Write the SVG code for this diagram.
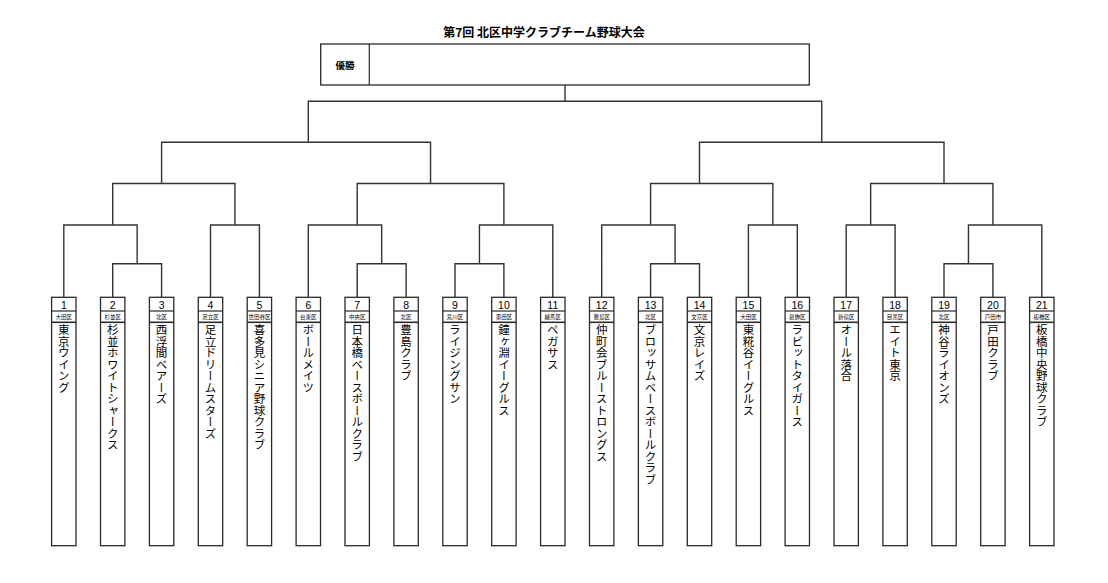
<svg xmlns="http://www.w3.org/2000/svg" width="1108" height="583" viewBox="0 0 1108 583">
<style>
.bg{fill:#ffffff}
.box{fill:#ffffff;stroke:#2a2a2a;stroke-width:1.3}
.sep{stroke:#2a2a2a;stroke-width:1.2}
.sep2{stroke:#2a2a2a;stroke-width:1.6}
.conn{fill:none;stroke:#333333;stroke-width:1.4}
.title{font-family:"Noto Sans CJK JP","Liberation Sans",sans-serif;font-size:12px;font-weight:bold;fill:#000}
.win{font-family:"Noto Sans CJK JP",sans-serif;font-size:9.5px;font-weight:bold;fill:#000}
.num{font-family:"Liberation Sans",Arial,sans-serif;font-size:10.5px;fill:#000;text-anchor:middle}
.dist{font-family:"Noto Sans CJK JP",sans-serif;font-size:5.5px;fill:#000;text-anchor:middle}
.name{font-family:"Noto Sans CJK JP",sans-serif;font-size:11.5px;fill:#000;writing-mode:vertical-rl;text-anchor:start}
</style>
<rect class="bg" x="0" y="0" width="1108" height="583"/>
<text class="title" x="544" y="37" text-anchor="middle">第7回 北区中学クラブチーム野球大会</text>
<g id="winner">
<rect class="box" x="320.7" y="44" width="488.6" height="41"/>
<line class="sep" x1="369.3" y1="44" x2="369.3" y2="85"/>
<text class="win" x="345" y="68.5" text-anchor="middle">優勝</text>
</g>
<g id="connectors">
<path class="conn" d="M565,85 V101.3"/>
<path class="conn" d="M308.3,142.3 V101.3 H821.75 V142.3"/>
<path class="conn" d="M161.6,183.5 V142.3 H430.55 V183.5"/>
<path class="conn" d="M699.5,183.5 V142.3 H944 V183.5"/>
<path class="conn" d="M112.7,225 V183.5 H234.95 V225"/>
<path class="conn" d="M357.2,225 V183.5 H503.9 V225"/>
<path class="conn" d="M650.6,225 V183.5 H772.85 V225"/>
<path class="conn" d="M870.65,225 V183.5 H992.9 V225"/>
<path class="conn" d="M63.8,297.3 V225 H137.15 V263.7"/>
<path class="conn" d="M210.5,297.3 V225 H259.4 V297.3"/>
<path class="conn" d="M308.3,297.3 V225 H381.65 V263.7"/>
<path class="conn" d="M479.45,263.7 V225 H552.8 V297.3"/>
<path class="conn" d="M601.7,297.3 V225 H675.05 V263.7"/>
<path class="conn" d="M748.4,297.3 V225 H797.3 V297.3"/>
<path class="conn" d="M846.2,297.3 V225 H895.1 V297.3"/>
<path class="conn" d="M968.45,263.7 V225 H1041.8 V297.3"/>
<path class="conn" d="M112.7,297.3 V263.7 H161.6 V297.3"/>
<path class="conn" d="M357.2,297.3 V263.7 H406.1 V297.3"/>
<path class="conn" d="M455,297.3 V263.7 H503.9 V297.3"/>
<path class="conn" d="M650.6,297.3 V263.7 H699.5 V297.3"/>
<path class="conn" d="M944,297.3 V263.7 H992.9 V297.3"/>
</g>
<defs>
<g id="frame">
<rect class="box" x="-12.2" y="297.3" width="24.4" height="248.4"/>
<line class="sep" x1="-12.2" y1="311" x2="12.2" y2="311"/>
<line class="sep2" x1="-12.2" y1="322.3" x2="12.2" y2="322.3"/>
</g>
</defs>
<g id="team1" transform="translate(63.8,0)"><use href="#frame"/><text class="num" x="0" y="308.5">1</text><text class="dist" x="0" y="319.3">大田区</text><text class="name" x="0" y="324">東京ウイング</text></g>
<g id="team2" transform="translate(112.7,0)"><use href="#frame"/><text class="num" x="0" y="308.5">2</text><text class="dist" x="0" y="319.3">杉並区</text><text class="name" x="0" y="324">杉並ホワイトシャークス</text></g>
<g id="team3" transform="translate(161.6,0)"><use href="#frame"/><text class="num" x="0" y="308.5">3</text><text class="dist" x="0" y="319.3">北区</text><text class="name" x="0" y="324">西浮間ベアーズ</text></g>
<g id="team4" transform="translate(210.5,0)"><use href="#frame"/><text class="num" x="0" y="308.5">4</text><text class="dist" x="0" y="319.3">足立区</text><text class="name" x="0" y="324">足立ドリームスターズ</text></g>
<g id="team5" transform="translate(259.4,0)"><use href="#frame"/><text class="num" x="0" y="308.5">5</text><text class="dist" x="0" y="319.3">世田谷区</text><text class="name" x="0" y="324">喜多見シニア野球クラブ</text></g>
<g id="team6" transform="translate(308.3,0)"><use href="#frame"/><text class="num" x="0" y="308.5">6</text><text class="dist" x="0" y="319.3">台東区</text><text class="name" x="0" y="324">ボールメイツ</text></g>
<g id="team7" transform="translate(357.2,0)"><use href="#frame"/><text class="num" x="0" y="308.5">7</text><text class="dist" x="0" y="319.3">中央区</text><text class="name" x="0" y="324">日本橋ベースボールクラブ</text></g>
<g id="team8" transform="translate(406.1,0)"><use href="#frame"/><text class="num" x="0" y="308.5">8</text><text class="dist" x="0" y="319.3">北区</text><text class="name" x="0" y="324">豊島クラブ</text></g>
<g id="team9" transform="translate(455,0)"><use href="#frame"/><text class="num" x="0" y="308.5">9</text><text class="dist" x="0" y="319.3">荒川区</text><text class="name" x="0" y="324">ライジングサン</text></g>
<g id="team10" transform="translate(503.9,0)"><use href="#frame"/><text class="num" x="0" y="308.5">10</text><text class="dist" x="0" y="319.3">墨田区</text><text class="name" x="0" y="324">鐘ヶ淵イーグルス</text></g>
<g id="team11" transform="translate(552.8,0)"><use href="#frame"/><text class="num" x="0" y="308.5">11</text><text class="dist" x="0" y="319.3">練馬区</text><text class="name" x="0" y="324">ペガサス</text></g>
<g id="team12" transform="translate(601.7,0)"><use href="#frame"/><text class="num" x="0" y="308.5">12</text><text class="dist" x="0" y="319.3">豊島区</text><text class="name" x="0" y="324">仲町会ブルーストロングス</text></g>
<g id="team13" transform="translate(650.6,0)"><use href="#frame"/><text class="num" x="0" y="308.5">13</text><text class="dist" x="0" y="319.3">北区</text><text class="name" x="0" y="324">ブロッサムベースボールクラブ</text></g>
<g id="team14" transform="translate(699.5,0)"><use href="#frame"/><text class="num" x="0" y="308.5">14</text><text class="dist" x="0" y="319.3">文京区</text><text class="name" x="0" y="324">文京レイズ</text></g>
<g id="team15" transform="translate(748.4,0)"><use href="#frame"/><text class="num" x="0" y="308.5">15</text><text class="dist" x="0" y="319.3">大田区</text><text class="name" x="0" y="324">東糀谷イーグルス</text></g>
<g id="team16" transform="translate(797.3,0)"><use href="#frame"/><text class="num" x="0" y="308.5">16</text><text class="dist" x="0" y="319.3">葛飾区</text><text class="name" x="0" y="324">ラビットタイガース</text></g>
<g id="team17" transform="translate(846.2,0)"><use href="#frame"/><text class="num" x="0" y="308.5">17</text><text class="dist" x="0" y="319.3">新宿区</text><text class="name" x="0" y="324">オール落合</text></g>
<g id="team18" transform="translate(895.1,0)"><use href="#frame"/><text class="num" x="0" y="308.5">18</text><text class="dist" x="0" y="319.3">目黒区</text><text class="name" x="0" y="324">エイト東京</text></g>
<g id="team19" transform="translate(944,0)"><use href="#frame"/><text class="num" x="0" y="308.5">19</text><text class="dist" x="0" y="319.3">北区</text><text class="name" x="0" y="324">神谷ライオンズ</text></g>
<g id="team20" transform="translate(992.9,0)"><use href="#frame"/><text class="num" x="0" y="308.5">20</text><text class="dist" x="0" y="319.3">戸田市</text><text class="name" x="0" y="324">戸田クラブ</text></g>
<g id="team21" transform="translate(1041.8,0)"><use href="#frame"/><text class="num" x="0" y="308.5">21</text><text class="dist" x="0" y="319.3">板橋区</text><text class="name" x="0" y="324">板橋中央野球クラブ</text></g>
</svg>
